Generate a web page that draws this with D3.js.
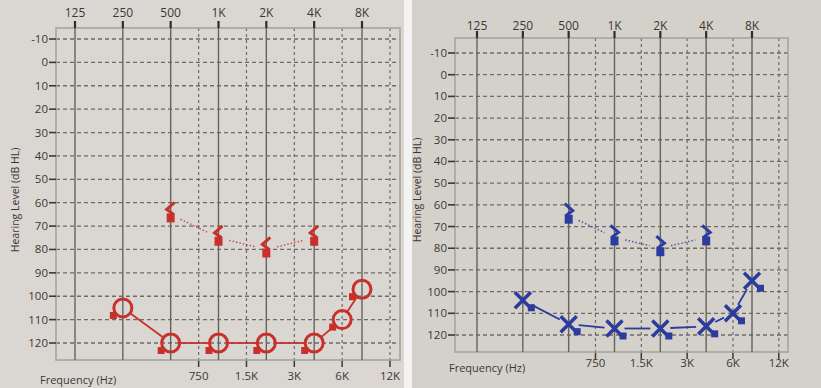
<!DOCTYPE html>
<html>
<head>
<meta charset="utf-8">
<script src="https://cdn.jsdelivr.net/npm/d3@7/dist/d3.min.js"></script>
<style>
  body { margin: 0; background: #d7d4cf; }
  svg { display: block; }
  text { font-family: "Open Sans", "DejaVu Sans", sans-serif; fill: #3a3835; }
</style>
</head>
<body>
<div id="chart"></div>
<script>
// chart data
const topFreqs = [125, 250, 500, 1000, 2000, 4000, 8000];
const topLabels = ["125", "250", "500", "1K", "2K", "4K", "8K"];
const halfFreqs = [750, 1500, 3000, 6000, 12000];
const halfLabels = ["750", "1.5K", "3K", "6K", "12K"];
const dbTicks = [-10, 0, 10, 20, 30, 40, 50, 60, 70, 80, 90, 100, 110, 120];

const airFreqs = [250, 500, 1000, 2000, 4000, 6000, 8000];
const rightAir = [105, 120, 120, 120, 120, 110, 97];   // red, circles
const leftAir = [104, 115, 117, 117, 116, 110, 95];    // blue, crosses
const boneFreqs = [500, 1000, 2000, 4000];
const rightBone = [65, 75, 80, 75];                    // red "<"
const leftBone = [65, 75, 80, 75];                     // blue ">"

const WIDTH = 821;
const HEIGHT = 388;
const RED = "#c8302b";
const BLUE = "#2b3b9e";

const svg = d3.select("#chart").append("svg")
  .attr("width", WIDTH)
  .attr("height", HEIGHT);

// paper backgrounds + white gap between the two sheets
svg.append("rect").attr("x", 0).attr("y", 0).attr("width", 404).attr("height", HEIGHT).attr("fill", "#dad7d2");
svg.append("rect").attr("x", 404).attr("y", 0).attr("width", 8).attr("height", HEIGHT).attr("fill", "#f3f3f1");
svg.append("rect").attr("x", 412).attr("y", 0).attr("width", WIDTH - 412).attr("height", HEIGHT).attr("fill", "#d4d1cb");

// shorten a segment by gap at both ends
function trimmed(x1, y1, x2, y2, gap) {
  const dx = x2 - x1, dy = y2 - y1;
  const len = Math.sqrt(dx * dx + dy * dy);
  const ux = dx / len, uy = dy / len;
  return [x1 + ux * gap, y1 + uy * gap, x2 - ux * gap, y2 - uy * gap];
}

function drawPanel(p) {
  const g = svg.append("g");
  const x = d3.scaleLog().base(2).domain([125, 8000]).range(p.xRange);
  const y = d3.scaleLinear().domain([-10, 120]).range(p.yRange);

  // horizontal dashed grid
  g.selectAll(".hgrid").data(dbTicks).enter().append("line")
    .attr("x1", p.left).attr("x2", p.right)
    .attr("y1", d => y(d)).attr("y2", d => y(d))
    .attr("stroke", "#6f6a63").attr("stroke-width", 1.3)
    .attr("stroke-dasharray", "4,3");

  // half octave dashed lines + bottom ticks
  g.selectAll(".vhalf").data(halfFreqs).enter().append("line")
    .attr("x1", d => x(d)).attr("x2", d => x(d))
    .attr("y1", p.top).attr("y2", p.bottom)
    .attr("stroke", "#6f6a63").attr("stroke-width", 1.2)
    .attr("stroke-dasharray", "3,3");
  g.selectAll(".btick").data(halfFreqs).enter().append("line")
    .attr("x1", d => x(d)).attr("x2", d => x(d))
    .attr("y1", p.bottom).attr("y2", p.bottom + 7)
    .attr("stroke", "#3a3835").attr("stroke-width", 1.5);
  g.selectAll(".blabel").data(halfFreqs).enter().append("text")
    .attr("x", d => x(d)).attr("y", p.bottomLabelY)
    .attr("text-anchor", "middle").style("font-size", "11.5px")
    .text((d, i) => halfLabels[i]);

  // box
  g.append("rect")
    .attr("x", p.left).attr("y", p.top)
    .attr("width", p.right - p.left).attr("height", p.bottom - p.top)
    .attr("fill", "none").attr("stroke", "#a7a39d").attr("stroke-width", 1.6);

  // octave solid lines + top ticks
  g.selectAll(".voct").data(topFreqs).enter().append("line")
    .attr("x1", d => x(d)).attr("x2", d => x(d))
    .attr("y1", p.top).attr("y2", p.bottom)
    .attr("stroke", "#66625c").attr("stroke-width", 1.4);
  g.selectAll(".ttick").data(topFreqs).enter().append("line")
    .attr("x1", d => x(d)).attr("x2", d => x(d))
    .attr("y1", p.top - 7).attr("y2", p.top)
    .attr("stroke", "#2e2c2a").attr("stroke-width", 2.2);
  g.selectAll(".tlabel").data(topFreqs).enter().append("text")
    .attr("x", d => x(d)).attr("y", p.topLabelY)
    .attr("text-anchor", "middle").style("font-size", "12px")
    .text((d, i) => topLabels[i]);

  // y ticks
  g.selectAll(".ytick").data(dbTicks).enter().append("line")
    .attr("x1", p.left - 7).attr("x2", p.left)
    .attr("y1", d => y(d)).attr("y2", d => y(d))
    .attr("stroke", "#3a3835").attr("stroke-width", 1.6);
  g.selectAll(".ylabel").data(dbTicks).enter().append("text")
    .attr("x", p.left - 8).attr("y", d => y(d) + 4)
    .attr("text-anchor", "end").style("font-size", "11.5px")
    .text(d => d);

  // axis titles
  g.append("text")
    .attr("transform", `translate(${p.titleX}, ${p.titleY}) rotate(-90)`)
    .attr("text-anchor", "middle").style("font-size", "10.5px")
    .text("Hearing Level (dB HL)");
  g.append("text")
    .attr("x", p.freqX).attr("y", p.freqY)
    .style("font-size", "11px")
    .text("Frequency (Hz)");

  const air = airFreqs.map((f, i) => [x(f), y(p.air[i])]);
  const bone = boneFreqs.map((f, i) => [x(f), y(p.bone[i])]);

  // bone conduction dotted connectors
  d3.pairs(bone).forEach(([a, b]) => {
    const s = trimmed(a[0], a[1], b[0], b[1], 11);
    g.append("line")
      .attr("x1", s[0]).attr("y1", s[1]).attr("x2", s[2]).attr("y2", s[3])
      .attr("stroke", p.color).attr("stroke-width", 1.5)
      .attr("stroke-dasharray", "1.5,2").attr("opacity", 0.8);
  });

  // air conduction solid connectors
  d3.pairs(air).forEach(([a, b]) => {
    const s = trimmed(a[0], a[1], b[0], b[1], 10);
    g.append("line")
      .attr("x1", s[0]).attr("y1", s[1]).attr("x2", s[2]).attr("y2", s[3])
      .attr("stroke", p.color).attr("stroke-width", 1.8);
  });

  // bone symbols
  const bs = g.selectAll(".bone").data(bone).enter().append("g")
    .attr("transform", d => `translate(${d[0]}, ${d[1]})`);
  bs.append("path")
    .attr("d", p.side === "right" ? "M4,-12 L-4,-5 L3,0" : "M-4,-12 L4,-5 L-3,0")
    .attr("fill", "none").attr("stroke", p.color).attr("stroke-width", 3)
    .attr("stroke-linejoin", "miter");
  bs.append("rect")
    .attr("x", -4).attr("y", -1)
    .attr("width", 8).attr("height", 9).attr("fill", p.color);

  // air symbols
  const as = g.selectAll(".air").data(air).enter().append("g")
    .attr("transform", d => `translate(${d[0]}, ${d[1]})`);
  if (p.side === "right") {
    as.append("circle").attr("r", 9)
      .attr("fill", "none").attr("stroke", p.color).attr("stroke-width", 3);
    as.append("rect").attr("x", -13).attr("y", 4).attr("width", 7).attr("height", 7)
      .attr("fill", p.color);
  } else {
    as.append("path").attr("d", "M-8,-8 L8,8 M-8,8 L8,-8")
      .attr("stroke", p.color).attr("stroke-width", 3.5);
    as.append("rect").attr("x", 5).attr("y", 4).attr("width", 7).attr("height", 7)
      .attr("fill", p.color);
  }
}

drawPanel({
  side: "right", color: RED, air: rightAir, bone: rightBone,
  xRange: [75, 362], yRange: [39, 343],
  left: 56, right: 400, top: 28, bottom: 360,
  topLabelY: 17, bottomLabelY: 380,
  titleX: 19, titleY: 200, freqX: 40, freqY: 384
});

drawPanel({
  side: "left", color: BLUE, air: leftAir, bone: leftBone,
  xRange: [477, 752], yRange: [53, 335],
  left: 455, right: 788, top: 38, bottom: 352,
  topLabelY: 30, bottomLabelY: 367,
  titleX: 421, titleY: 190, freqX: 449, freqY: 372
});
</script>
</body>
</html>
